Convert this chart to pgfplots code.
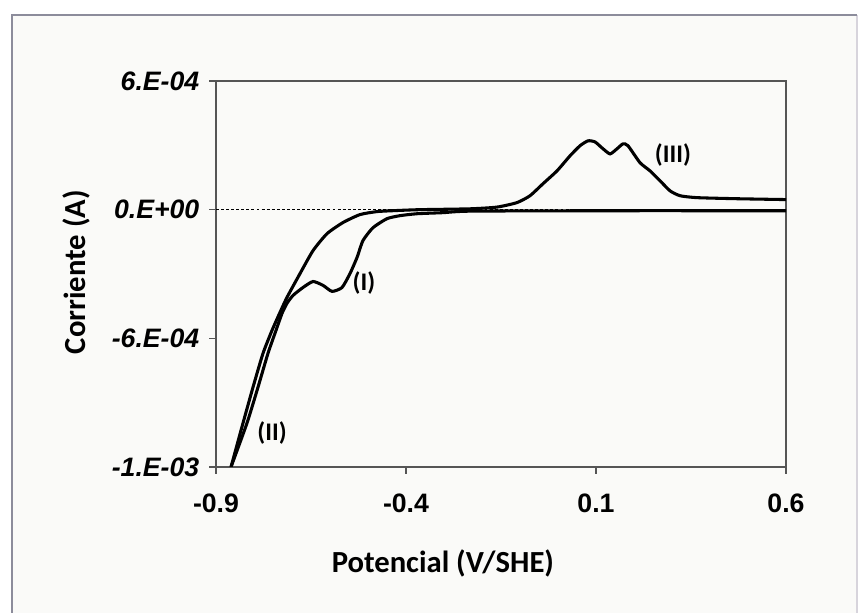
\documentclass[border=0pt]{standalone}
\usepackage{fontspec}
\setmainfont{Carlito}
\newfontfamily\lsans{Liberation Sans}
\usepackage{pgfplots}
\usepackage{pgfplotstable}
\pgfplotsset{compat=1.18}
\definecolor{bgc}{RGB}{250,250,248}
\definecolor{framec}{RGB}{140,140,155}
\definecolor{framer}{RGB}{215,212,220}
\definecolor{axc}{RGB}{85,85,85}
\pgfplotstableread{
x y
-0.8605 -1.20e-3
-0.8289 -9.95e-4
-0.8026 -8.28e-4
-0.7763 -6.70e-4
-0.7526 -5.63e-4
-0.7316 -4.79e-4
-0.7132 -4.09e-4
-0.6789 -2.98e-4
-0.6447 -1.91e-4
-0.6079 -1.12e-4
-0.5658 -6.0e-5
-0.5211 -2.3e-5
-0.4763 -9e-6
-0.4237 -4e-6
-0.3632 0
-0.2316 4e-6
-0.1605 1.2e-5
-0.1079 3.3e-5
-0.0737 6.5e-5
-0.0395 1.21e-4
-0.0026 1.81e-4
0.0316 2.51e-4
0.0579 2.98e-4
0.0789 3.21e-4
0.0974 3.16e-4
0.1158 2.88e-4
0.1368 2.60e-4
0.1553 2.84e-4
0.1711 3.07e-4
0.1842 2.98e-4
0.2158 2.19e-4
0.2421 1.81e-4
0.2684 1.35e-4
0.2947 8.8e-5
0.3211 6.5e-5
0.3658 5.6e-5
0.4711 5.1e-5
0.6 4.7e-5
}\curveA
\pgfplotstableread{
x y
0.6 -5e-6
0.1 -5e-6
-0.2316 -7e-6
-0.3026 -1.4e-5
-0.371 -1.9e-5
-0.4158 -2.8e-5
-0.45 -4.2e-5
-0.4868 -8.4e-5
-0.5132 -1.44e-4
-0.5289 -2.23e-4
-0.5474 -2.98e-4
-0.5684 -3.63e-4
-0.5947 -3.81e-4
-0.6184 -3.53e-4
-0.6447 -3.35e-4
-0.6711 -3.63e-4
-0.6974 -4.00e-4
-0.7132 -4.37e-4
-0.7263 -4.84e-4
-0.7421 -5.63e-4
-0.7632 -6.70e-4
-0.7895 -8.28e-4
-0.8184 -9.95e-4
-0.8605 -1.20e-3
}\curveB
\begin{document}
\begin{tikzpicture}[x=1pt,y=1pt]
\useasboundingbox (0,0) rectangle (650.25,459.75);
\fill[white] (0,0) rectangle (650.25,459.75);
\fill[bgc] (9,0) rectangle (642.75,448.5);
\draw[framer, line width=1.2pt] (642.75,0) -- (642.75,448.5);
\draw[framec, line width=1.5pt] (9,0) -- (9,448.5) -- (642.75,448.5);
\begin{axis}[
  at={(162pt,109.5pt)}, anchor=south west,
  scale only axis, width=427.5pt, height=289.5pt,
  xmin=-0.9, xmax=0.6, ymin=-1.2e-3, ymax=6e-4,
  xtick={-0.9,-0.4,0.1,0.6}, xticklabels={-0.9,-0.4,0.1,0.6},
  ytick={-1.2e-3,-6e-4,0,6e-4}, yticklabels={-1.E-03,-6.E-04,0.E+00,6.E-04},
  scaled y ticks=false, scaled x ticks=false,
  tick pos=left, tick align=outside, major tick length=5pt,
  axis line style={axc, line width=1.2pt},
  tick style={axc, line width=1.2pt},
  xticklabel style={font=\lsans\bfseries\fontsize{20}{22}\selectfont, yshift=-12pt},
  yticklabel style={font=\lsans\bfseries\itshape\fontsize{20}{22}\selectfont, xshift=-4pt},
  xlabel={Potencial (V/SHE)}, ylabel={Corriente (A)},
  xlabel style={font=\bfseries\fontsize{23}{26}\selectfont, at={(axis description cs:0.398,-0.249)}, anchor=center},
  ylabel style={font=\bfseries\fontsize{23}{26}\selectfont, at={(axis description cs:-0.2456,0.505)}, anchor=center},
]
\addplot[black, line width=0.8pt, dash pattern=on 2.2pt off 1.6pt] coordinates {(-0.9,0) (0.6,0)};
\addplot[black, line width=2.3pt, smooth, tension=0.35] table[x=x,y=y] {\curveB};
\addplot[black, line width=2.3pt, smooth, tension=0.35] table[x=x,y=y] {\curveA};
\node[font=\bfseries\fontsize{19}{21}\selectfont] at (axis cs:-0.5105,-3.44e-4) {(I)};
\node[font=\bfseries\fontsize{19}{21}\selectfont] at (axis cs:-0.7526,-1.042e-3) {(II)};
\node[font=\bfseries\fontsize{19}{21}\selectfont] at (axis cs:0.3026,2.56e-4) {(III)};
\end{axis}
\end{tikzpicture}
\end{document}
